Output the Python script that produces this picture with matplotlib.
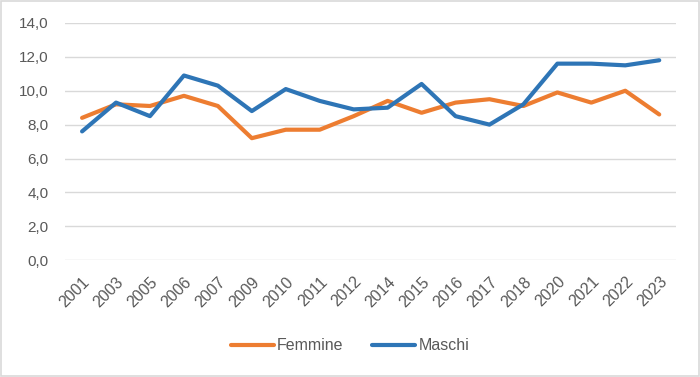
import matplotlib
matplotlib.use("Agg")
import matplotlib.pyplot as plt
from matplotlib.patches import Rectangle
from matplotlib.ticker import FuncFormatter

plt.rcParams["font.family"] = ["Liberation Sans", "DejaVu Sans"]

years = ["2001", "2003", "2005", "2006", "2007", "2009", "2010", "2011", "2012",
         "2014", "2015", "2016", "2017", "2018", "2020", "2021", "2022", "2023"]
femmine = [8.4, 9.2, 9.1, 9.7, 9.1, 7.2, 7.7, 7.7, 8.5,
           9.4, 8.7, 9.3, 9.5, 9.1, 9.9, 9.3, 10.0, 8.6]
maschi = [7.6, 9.3, 8.5, 10.9, 10.3, 8.8, 10.1, 9.4, 8.9,
          9.0, 10.4, 8.5, 8.0, 9.2, 11.6, 11.6, 11.5, 11.8]

ORANGE = "#ED7D31"
BLUE = "#2E75B6"
GRID = "#D9D9D9"
TEXT = "#595959"

fig = plt.figure(figsize=(7.0, 3.77), dpi=100)
ax = fig.add_axes([0.093, 0.310, 0.873, 0.629])

x = list(range(len(years)))
ax.plot(x, femmine, color=ORANGE, lw=3.0, label="Femmine", solid_capstyle="round", zorder=3)
ax.plot(x, maschi, color=BLUE, lw=3.0, label="Maschi", solid_capstyle="round", zorder=3)

ax.set_xlim(-0.5, len(years) - 0.5)
ax.set_ylim(0, 14)
ax.set_yticks(range(0, 15, 2))
ax.yaxis.set_major_formatter(FuncFormatter(lambda v, p: f"{v:.1f}".replace(".", ",")))
ax.set_xticks(x)
ax.set_xticklabels(years, rotation=45, ha="right", rotation_mode="anchor")

ax.grid(axis="y", color=GRID, lw=1.0)
ax.set_axisbelow(True)
for s in ax.spines.values():
    s.set_visible(False)
ax.tick_params(axis="both", length=0, labelsize=11, colors=TEXT)
ax.tick_params(axis="y", pad=12)
ax.tick_params(axis="x", pad=10, labelsize=11.5)

leg = fig.legend(loc="center", bbox_to_anchor=(0.5, 0.083), ncol=2, frameon=False,
                 fontsize=11.5, handlelength=2.7, handletextpad=0.2, columnspacing=1.8)
for t in leg.get_texts():
    t.set_color(TEXT)

fig.patches.append(Rectangle((0.002, 0.003), 0.996, 0.994, transform=fig.transFigure,
                             fill=False, edgecolor=GRID, lw=1.2))

fig.savefig("out.png", dpi=100, facecolor="white")
